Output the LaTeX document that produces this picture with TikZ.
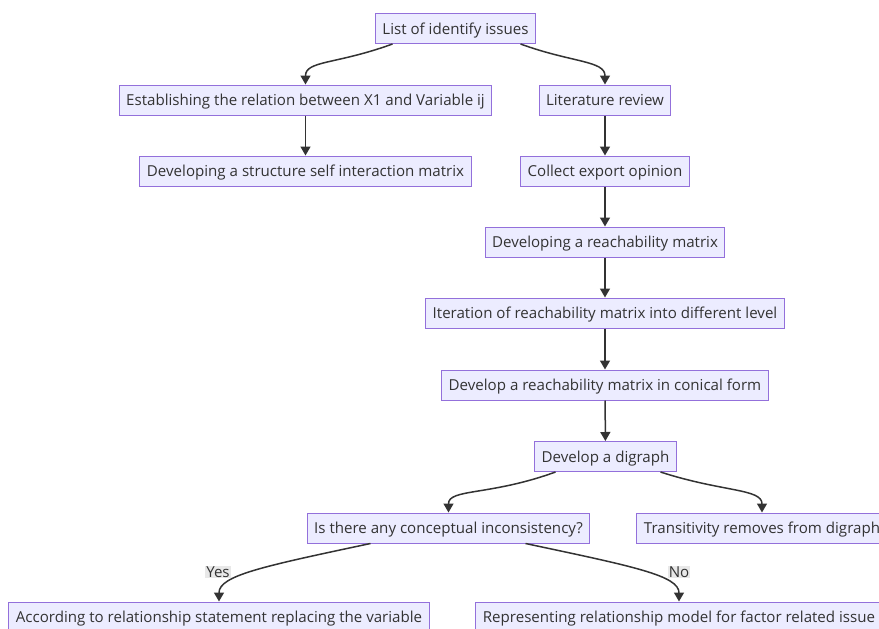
\documentclass[tikz,border=0pt]{standalone}
\usepackage{fontspec}
\setmainfont{Open Sans}
\usepackage{tikz}
\usetikzlibrary{arrows.meta}

\definecolor{boxfill}{HTML}{ECECFF}
\definecolor{boxline}{HTML}{9370DB}
\definecolor{inkgray}{HTML}{333333}
\definecolor{lblfill}{HTML}{E8E8E8}

\tikzset{
    stepbox/.style={draw=boxline, fill=boxfill, line width=1pt, text=inkgray,
        minimum height=30pt, inner xsep=7pt, text height=13pt, text depth=1.5pt,
        font=\fontsize{15.1}{17}\selectfont},
    flow/.style={draw=inkgray, line width=1.5pt, -{Triangle[length=9pt,width=10pt]}},
    yesno/.style={fill=lblfill, text=inkgray, inner sep=1pt, font=\fontsize{15.1}{17}\selectfont}
}

\begin{document}
\begin{tikzpicture}[x=1pt, y=-1pt]
    \useasboundingbox (0,0) rectangle (879,629);
    \clip (0,0) rectangle (879,629);

    % Top and the two branches
    \node[stepbox] (issues) at (455.5,28.5) {List of identify issues};
    \node[stepbox] (relation) at (305.5,100) {Establishing the relation between X1 and Variable ij};
    \node[stepbox] (review) at (605,100) {Literature review};
    \node[stepbox] (ssim) at (305.5,171) {Developing a structure self interaction matrix};

    % Main column
    \node[stepbox] (opinion) at (605,171) {Collect export opinion};
    \node[stepbox] (reach) at (605,242) {Developing a reachability matrix};
    \node[stepbox] (iter) at (605,313) {Iteration of reachability matrix into different level};
    \node[stepbox] (conical) at (605,385) {Develop a reachability matrix in conical form};
    \node[stepbox] (digraph) at (605.5,456.5) {Develop a digraph};

    % Check and results
    \node[stepbox] (check) at (448.5,528) {Is there any conceptual inconsistency?};
    \node[stepbox] (trans) at (762,528) {Transitivity removes from digraph};
    \node[stepbox] (replace) at (219,617) {According to relationship statement replacing the variable};
    \node[stepbox] (model) at (679,617) {Representing relationship model for factor related issue};

    % Connectors (y runs downwards, so angles are mirrored)
    \draw[flow] ([xshift=-63pt]issues.south) .. controls +(160:60) and +(-90:24) .. (relation.north);
    \draw[flow] ([xshift=65pt]issues.south) .. controls +(20:55) and +(-90:24) .. (review.north);
    \draw[flow] (relation) -- (ssim);
    \draw[flow] (review) -- (opinion);
    \draw[flow] (opinion) -- (reach);
    \draw[flow] (reach) -- (iter);
    \draw[flow] (iter) -- (conical);
    \draw[flow] (conical) -- (digraph);
    \draw[flow] ([xshift=-50pt]digraph.south) .. controls +(160:70) and +(-90:24) .. (check.north);
    \draw[flow] ([xshift=55pt]digraph.south) .. controls +(18:65) and +(-90:24) .. (trans.north);
    \draw[flow] ([xshift=-78pt]check.south) .. controls +(168:110) and +(-90:26) .. (replace.north);
    \draw[flow] ([xshift=77pt]check.south) .. controls +(12:110) and +(-90:26) .. (model.north);

    % Yes / No
    \node[yesno] (yes) at (218,572) {Yes};
    \node[yesno] (no) at (679,572) {No};
\end{tikzpicture}
\end{document}
